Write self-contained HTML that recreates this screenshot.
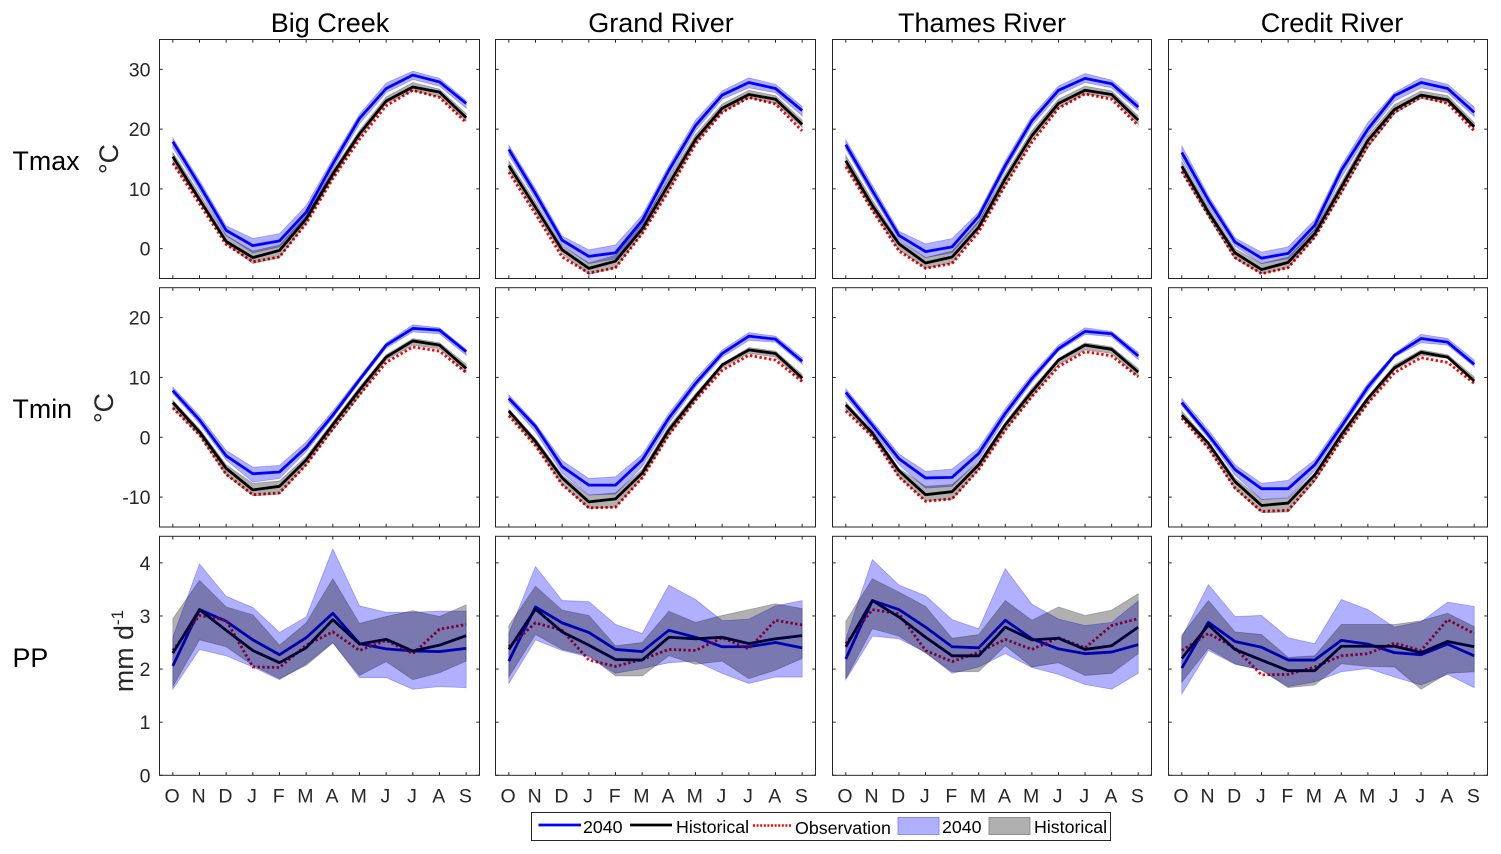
<!DOCTYPE html>
<html lang="en">
<head>
<meta charset="utf-8">
<title>Monthly climatology for four rivers</title>
<style>
html,body{margin:0;padding:0;background:#fff;}
svg{display:block;font-family:"Liberation Sans",Arial,sans-serif;}
</style>
</head>
<body>
<svg id="figure" xmlns="http://www.w3.org/2000/svg" width="1501" height="854" viewBox="0 0 1501 854">
<rect x="0" y="0" width="1501" height="854" fill="#fff"/>
<text x="330" y="32" font-size="27" text-anchor="middle" fill="#000">Big Creek</text>
<text x="661" y="32" font-size="27" text-anchor="middle" fill="#000">Grand River</text>
<text x="982" y="32" font-size="27" text-anchor="middle" fill="#000">Thames River</text>
<text x="1332" y="32" font-size="27" text-anchor="middle" fill="#000">Credit River</text>
<text x="12.5" y="170" font-size="26.8" fill="#000">Tmax</text>
<text x="12.5" y="418" font-size="26.8" fill="#000">Tmin</text>
<text x="12.5" y="667" font-size="26.8" fill="#000">PP</text>
<text transform="translate(118,159) rotate(-90)" font-size="26.8" text-anchor="middle" fill="#262626">°C</text>
<text transform="translate(113,408) rotate(-90)" font-size="26.8" text-anchor="middle" fill="#262626">°C</text>
<text transform="translate(133,651) rotate(-90)" font-size="26.8" text-anchor="middle" fill="#262626">mm d<tspan font-size="17" dy="-10">-1</tspan></text>
<g id="panels"></g>
<g id="legend">
<rect x="531.5" y="812.5" width="579" height="28" fill="#fff" stroke="#262626" stroke-width="1"/>
<line x1="538.5" y1="825" x2="581" y2="825" stroke="#0000ff" stroke-width="2.8"/>
<text x="583" y="833" font-size="17.8" fill="#000">2040</text>
<line x1="630" y1="825" x2="672" y2="825" stroke="#000" stroke-width="2.8"/>
<text x="676" y="833" font-size="17.8" fill="#000">Historical</text>
<line x1="753" y1="825.5" x2="792" y2="825.5" stroke="#ff0000" stroke-width="2.4" stroke-dasharray="2 1.6"/>
<text x="795" y="834" font-size="17.8" fill="#000">Observation</text>
<rect x="898" y="817.5" width="41" height="17" fill="#b0b0ff" stroke="#7878ff" stroke-width="0.8"/>
<text x="942" y="833" font-size="17.8" fill="#000">2040</text>
<rect x="989" y="817.5" width="41" height="17" fill="#b0b0b0" stroke="#808080" stroke-width="0.8"/>
<text x="1034" y="833" font-size="17.8" fill="#000">Historical</text>
</g>
</svg>
<script>
// ---- categories and tick labels ----
const months = ["O","N","D","J","F","M","A","M","J","J","A","S"];
const tmaxTicks = [0,10,20,30];
const tminTicks = [-10,0,10,20];
const ppTicks = [0,1,2,3,4];
const tmaxDomain = [-5,35];
const tminDomain = [-15,25];
const ppDomain = [0,4.5];

// ---- Tmax, Big Creek ----
const tmaxBig2040 = [17.9,10.6,3.05,0.5,1.3,6.1,14.2,21.8,26.8,29.05,27.9,24.3];
const tmaxBigHist = [15.4,8.2,1.2,-1.5,-0.3,5.0,12.5,19.2,24.7,27.05,26.2,21.9];
const tmaxBigObs = [14.3,7.5,0.7,-2.2,-1.4,4.2,11.7,18.3,23.9,26.5,25.3,21.1];
const tmaxBig2040Hi = [18.5,11.4,3.8,1.7,2.5,7.2,15,22.5,27.7,29.7,28.5,24.8];
const tmaxBig2040Lo = [16.9,9.7,2.2,-0.7,0.3,5.3,13.3,20.9,26.1,28.3,27.2,23.5];
const tmaxBigHistHi = [16.1,9.2,2.2,-0.4,0.6,5.6,13.1,19.8,25.4,27.8,26.7,22.6];
const tmaxBigHistLo = [14.4,7.8,0.8,-2.5,-1.5,4.3,11.8,18.6,24.3,26.4,25.4,21.3];
// ---- Tmax, Grand River ----
const tmaxGrand2040 = [16.6,9.2,1.4,-1.3,-0.7,4.7,13.1,20.6,25.7,27.8,26.8,23.1];
const tmaxGrandHist = [13.9,6.9,-0.2,-3.3,-2.1,3.3,10.8,18.3,23.5,25.8,25,20.8];
const tmaxGrandObs = [12.8,5.8,-1.4,-4.1,-3.2,2.5,9.7,17.5,22.8,25.3,24.2,19.7];
const tmaxGrand2040Hi = [17.3,10,2.1,-0.2,0.6,5.6,13.9,21.5,26.4,28.6,27.5,23.8];
const tmaxGrand2040Lo = [15.7,8.3,0.6,-2.5,-1.7,3.6,11.9,19.7,25,26.9,26.1,22.2];
const tmaxGrandHistHi = [14.7,7.8,0.4,-2.4,-1.1,4.2,11.7,19.1,24.2,26.5,25.6,21.5];
const tmaxGrandHistLo = [13.1,6.1,-0.9,-4.3,-3.2,2.5,9.8,17.6,22.8,25.2,24.3,20.3];
// ---- Tmax, Thames River ----
const tmaxThames2040 = [17.4,9.7,2.2,-0.5,0.3,5.4,13.9,21.4,26.5,28.5,27.6,23.7];
const tmaxThamesHist = [14.7,7.2,0.8,-2.4,-1.4,3.6,11.7,18.9,24.3,26.5,25.8,21.5];
const tmaxThamesObs = [13.7,6.4,-0.4,-3.3,-2.5,2.8,10.6,17.8,23.5,25.9,25,20.6];
const tmaxThames2040Hi = [18.2,10.6,2.9,0.8,1.7,6.1,14.7,22.2,27.2,29.3,28.2,24.4];
const tmaxThames2040Lo = [16.7,8.9,1.5,-1.5,-0.7,4.4,13.1,20.6,25.7,27.8,26.9,23.1];
const tmaxThamesHistHi = [15.6,8.1,1.3,-1.5,-0.4,4.6,12.5,19.7,25,27.2,26.4,22.2];
const tmaxThamesHistLo = [13.9,6.4,-0.2,-3.3,-2.4,3.1,10.6,18.1,23.6,25.9,25.3,20.8];
// ---- Tmax, Credit River ----
const tmaxCredit2040 = [16.1,8.1,1.1,-1.6,-0.8,3.9,13.1,20,25.6,27.8,26.8,22.8];
const tmaxCreditHist = [13.8,6.1,-0.7,-3.5,-2.3,2.5,10.3,18.1,23.3,25.7,24.9,20.4];
const tmaxCreditObs = [12.9,5.6,-1.5,-4.2,-3.2,1.9,9.4,17.2,22.8,25.4,24.3,19.7];
const tmaxCredit2040Hi = [17.2,8.9,1.8,-0.6,0.3,4.8,13.9,21.1,26.1,28.6,27.5,23.7];
const tmaxCredit2040Lo = [15,7.2,0.4,-2.5,-1.7,3.1,11.9,19.2,24.7,26.9,26.1,22.1];
const tmaxCreditHistHi = [14.6,6.9,0,-2.5,-1.4,3.3,11.1,18.9,24.1,26.4,25.6,21.1];
const tmaxCreditHistLo = [12.8,5.3,-1.7,-4.2,-3.2,1.8,9.2,16.9,22.6,25.1,24.4,20];

// ---- Tmin, Big Creek ----
const tminBig2040 = [7.8,2.9,-3.1,-6.1,-5.8,-1.7,3.7,9.6,15.4,18.2,17.9,14.3];
const tminBigHist = [5.8,0.9,-5.2,-8.8,-8.2,-3.8,2.1,7.9,13.4,16.1,15.4,11.5];
const tminBigObs = [4.9,0.4,-6.2,-9.6,-9.3,-4.6,1.4,7.1,12.5,15.1,14.4,10.8];
const tminBig2040Hi = [8.4,3.6,-2.2,-5,-4.7,-0.8,4.4,10.1,15.8,18.8,18.3,14.7];
const tminBig2040Lo = [7.3,2.3,-3.8,-7.5,-6.9,-2.4,3.2,9.2,14.9,17.6,17.3,13.7];
const tminBigHistHi = [6.2,1.4,-4.6,-7.7,-7.3,-3.2,2.6,8.4,13.8,16.5,15.8,12.2];
const tminBigHistLo = [4.9,0.3,-6.3,-9.8,-9.5,-4.6,1.2,6.9,12.9,15.4,14.8,10.8];
// ---- Tmin, Grand River ----
const tminGrand2040 = [6.5,1.8,-4.9,-8,-8,-3.8,3.2,9,14,16.9,16.4,12.7];
const tminGrandHist = [4.4,-0.7,-6.8,-10.8,-10.3,-6,1.2,6.8,12.1,14.6,14,9.9];
const tminGrandObs = [3.6,-1.4,-7.9,-11.8,-11.7,-6.8,0.4,6.2,11.2,13.7,12.9,9.3];
const tminGrand2040Hi = [7.1,2.3,-3.9,-6.9,-6.6,-2.9,4,9.8,14.6,17.5,16.9,13.3];
const tminGrand2040Lo = [5.9,0.9,-6,-9.6,-9.5,-4.9,2.3,8.4,13.4,16.2,15.9,12.2];
const tminGrandHistHi = [4.7,-0.2,-6.3,-9.7,-9.3,-5.4,1.8,7.3,12.3,15,14.4,10.5];
const tminGrandHistLo = [3.7,-1.4,-7.9,-11.9,-11.7,-6.8,0.3,6.2,11.6,14,13.4,9.4];
// ---- Tmin, Thames River ----
const tminThames2040 = [7.5,2,-3.6,-6.8,-6.7,-2.7,4,9.8,14.8,17.7,17.3,13.6];
const tminThamesHist = [5.4,0.7,-5.6,-9.6,-9.1,-4.6,2.1,7.6,12.9,15.4,14.7,10.9];
const tminThamesObs = [4.4,0.1,-6.6,-10.7,-10.3,-5.4,1.2,6.8,11.8,14.3,13.6,10.1];
const tminThames2040Hi = [8.1,2.7,-2.8,-5.7,-5.3,-1.8,4.8,10.5,15.4,18.3,17.7,14.2];
const tminThames2040Lo = [6.8,1.2,-4.6,-8.5,-8.2,-3.8,3.2,9.2,14.4,17.2,16.8,13];
const tminThamesHistHi = [5.9,1.1,-5.2,-8.2,-7.9,-4.1,2.5,8.2,13.2,15.8,15.1,11.5];
const tminThamesHistLo = [4.6,0.1,-6.6,-10.6,-10.4,-5.4,1.2,6.8,12.1,14.6,14,10.1];
// ---- Tmin, Credit River ----
const tminCredit2040 = [5.8,0.4,-5.4,-8.6,-8.6,-4.6,1.8,8.4,13.7,16.5,15.9,12.2];
const tminCreditHist = [3.7,-1,-7.4,-11.4,-11,-6.3,0.4,6.5,11.6,14.2,13.4,9.4];
const tminCreditObs = [3.2,-1.8,-8.5,-12.4,-12.2,-7.1,-0.4,5.7,10.8,13.3,12.5,9];
const tminCredit2040Hi = [6.5,1.2,-4.6,-7.7,-7.2,-3.8,2.6,9,14,17.2,16.5,12.9];
const tminCredit2040Lo = [5.3,-0.2,-6.3,-10.4,-10.1,-5.6,1.2,7.7,13.4,15.8,15.4,11.8];
const tminCreditHistHi = [4.4,-0.7,-6.8,-10.4,-10.2,-6,0.9,6.8,12.1,14.6,13.8,10.1];
const tminCreditHistLo = [3.3,-1.8,-8.6,-12.6,-12.5,-7.4,-0.4,5.7,11.2,13.7,13.2,9.3];

// ---- PP, Big Creek ----
const ppBig2040 = [2.06,3.12,2.90,2.55,2.27,2.59,3.05,2.48,2.38,2.34,2.33,2.39];
const ppBigHist = [2.30,3.12,2.73,2.35,2.12,2.40,2.93,2.47,2.56,2.34,2.45,2.63];
const ppBigObs = [2.35,3.01,2.92,2.04,2.03,2.45,2.70,2.35,2.54,2.29,2.75,2.84];
const ppBig2040Hi = [2.60,3.98,3.37,3.16,2.69,2.98,4.26,3.19,3.07,3.07,3.09,3.09];
const ppBig2040Lo = [1.62,2.37,2.25,2.04,1.80,2.1,2.50,1.84,1.84,1.62,1.67,1.65];
const ppBigHistHi = [2.95,3.67,3.17,3.02,2.45,2.87,3.70,2.86,2.99,3.10,2.99,3.21];
const ppBigHistLo = [1.67,2.55,2.42,2.07,1.82,2.07,2.49,1.88,2.14,1.80,1.93,2.15];
// ---- PP, Grand River ----
const ppGrand2040 = [2.15,3.17,2.87,2.69,2.37,2.33,2.73,2.60,2.42,2.42,2.50,2.40];
const ppGrandHist = [2.37,3.13,2.70,2.45,2.18,2.17,2.60,2.57,2.60,2.48,2.57,2.63];
const ppGrandObs = [2.42,2.87,2.73,2.17,2.05,2.18,2.37,2.35,2.59,2.38,2.92,2.83];
const ppGrand2040Hi = [2.67,3.93,3.29,3.27,2.84,2.67,3.58,3.31,2.91,2.94,3.19,3.29];
const ppGrand2040Lo = [1.73,2.55,2.35,2.23,1.92,2.01,2.12,2.15,1.92,1.73,1.85,1.85];
const ppGrandHistHi = [2.82,3.56,3.11,3.01,2.44,2.50,3.09,2.88,3.01,3.12,3.23,3.14];
const ppGrandHistLo = [1.85,2.65,2.37,2.25,1.87,1.87,2.25,2.09,2.15,1.82,1.98,2.20];
// ---- PP, Thames River ----
const ppThames2040 = [2.19,3.29,3.12,2.79,2.42,2.40,2.92,2.57,2.38,2.29,2.32,2.46];
const ppThamesHist = [2.42,3.29,2.98,2.60,2.25,2.25,2.79,2.55,2.58,2.37,2.44,2.79];
const ppThamesObs = [2.48,3.12,3.04,2.35,2.14,2.32,2.56,2.37,2.59,2.40,2.82,2.95];
const ppThames2040Hi = [2.57,4.06,3.58,3.38,2.93,2.76,3.89,3.22,2.94,2.82,2.88,3.28];
const ppThames2040Lo = [1.80,2.62,2.57,2.32,1.92,2.04,2.29,2.03,1.90,1.71,1.62,1.92];
const ppThamesHistHi = [2.90,3.70,3.45,3.18,2.58,2.65,3.29,2.92,3.17,3.01,3.11,3.42];
const ppThamesHistLo = [1.82,2.76,2.62,2.30,1.95,1.95,2.44,2.04,2.12,1.88,1.92,2.29];
// ---- PP, Credit River ----
const ppCredit2040 = [2.02,2.88,2.52,2.41,2.17,2.17,2.54,2.47,2.31,2.27,2.47,2.25];
const ppCreditHist = [2.20,2.83,2.37,2.17,1.97,1.97,2.43,2.43,2.43,2.31,2.52,2.42];
const ppCreditObs = [2.35,2.67,2.40,1.89,1.90,2.04,2.25,2.29,2.49,2.35,2.93,2.67];
const ppCredit2040Hi = [2.60,3.59,2.99,3.01,2.59,2.48,3.31,3.12,2.79,2.89,3.26,3.18];
const ppCredit2040Lo = [1.53,2.35,2.09,1.98,1.67,1.76,1.95,2.01,1.85,1.70,1.90,1.65];
const ppCreditHistHi = [2.64,3.29,2.70,2.65,2.22,2.25,2.84,2.84,2.84,2.91,3.05,2.80];
const ppCreditHistLo = [1.75,2.39,2.10,1.98,1.65,1.70,2.10,2.05,2.04,1.62,1.92,1.95];

// ---- grid of rows and rivers ----
const rivers = ["big-creek","grand-river","thames-river","credit-river"];
const rows = ["tmax","tmin","pp"];
const seriesGrid = [
  [
    [tmaxBig2040,tmaxBigHist,tmaxBigObs,tmaxBig2040Hi,tmaxBig2040Lo,tmaxBigHistHi,tmaxBigHistLo],
    [tmaxGrand2040,tmaxGrandHist,tmaxGrandObs,tmaxGrand2040Hi,tmaxGrand2040Lo,tmaxGrandHistHi,tmaxGrandHistLo],
    [tmaxThames2040,tmaxThamesHist,tmaxThamesObs,tmaxThames2040Hi,tmaxThames2040Lo,tmaxThamesHistHi,tmaxThamesHistLo],
    [tmaxCredit2040,tmaxCreditHist,tmaxCreditObs,tmaxCredit2040Hi,tmaxCredit2040Lo,tmaxCreditHistHi,tmaxCreditHistLo]
  ],
  [
    [tminBig2040,tminBigHist,tminBigObs,tminBig2040Hi,tminBig2040Lo,tminBigHistHi,tminBigHistLo],
    [tminGrand2040,tminGrandHist,tminGrandObs,tminGrand2040Hi,tminGrand2040Lo,tminGrandHistHi,tminGrandHistLo],
    [tminThames2040,tminThamesHist,tminThamesObs,tminThames2040Hi,tminThames2040Lo,tminThamesHistHi,tminThamesHistLo],
    [tminCredit2040,tminCreditHist,tminCreditObs,tminCredit2040Hi,tminCredit2040Lo,tminCreditHistHi,tminCreditHistLo]
  ],
  [
    [ppBig2040,ppBigHist,ppBigObs,ppBig2040Hi,ppBig2040Lo,ppBigHistHi,ppBigHistLo],
    [ppGrand2040,ppGrandHist,ppGrandObs,ppGrand2040Hi,ppGrand2040Lo,ppGrandHistHi,ppGrandHistLo],
    [ppThames2040,ppThamesHist,ppThamesObs,ppThames2040Hi,ppThames2040Lo,ppThamesHistHi,ppThamesHistLo],
    [ppCredit2040,ppCreditHist,ppCreditObs,ppCredit2040Hi,ppCredit2040Lo,ppCreditHistHi,ppCreditHistLo]
  ]
];

// ---- layout (not data) ----
const NS = "http://www.w3.org/2000/svg";
const panelsRoot = document.getElementById("panels");
const columnLeft = [159.5,495.5,832.5,1168.5];
const columnWidth = [320,320,319,319];
const rowTop = [39.5,287.7,536.3];
const rowHeight = [239,239.3,239];
const rowTicks = [tmaxTicks,tminTicks,ppTicks];
const rowDomains = [tmaxDomain,tminDomain,ppDomain];
const tickLen = 3.2;
const axisColor = "#262626";
const seriesWidth = 2.8;

function make(tag, attrs, parent) {
  const el = document.createElementNS(NS, tag);
  for (const k in attrs) el.setAttribute(k, attrs[k]);
  parent.appendChild(el);
  return el;
}
function makeXScale(left, width) {
  const step = width / months.length;
  return function (i) { return left + (i + 0.5) * step; };
}
function makeYScale(top, height, domain) {
  return function (v) { return top + height - (v - domain[0]) / (domain[1] - domain[0]) * height; };
}
function linePath(values, x, y) {
  return values.map(function (v, i) { return (i ? "L" : "M") + x(i).toFixed(2) + " " + y(v).toFixed(2); }).join("");
}
function bandPath(upper, lower, x, y) {
  let d = linePath(upper, x, y);
  for (let i = lower.length - 1; i >= 0; i--) d += "L" + x(i).toFixed(2) + " " + y(lower[i]).toFixed(2);
  return d + "Z";
}

rows.forEach(function (rowName, r) {
  rivers.forEach(function (riverName, c) {
    const left = columnLeft[c], top = rowTop[r], w = columnWidth[c], h = rowHeight[r];
    const x = makeXScale(left, w), y = makeYScale(top, h, rowDomains[r]);
    const s = seriesGrid[r][c];
    const g = make("g", {}, panelsRoot);
    
    

    const frameBg = make("rect", {x:left, y:top, width:w, height:h, fill:"#fff"}, g);
    
    

    // Lines go first: the translucent bands are painted over them, as in the reference.
    const line2040 = make("path", {d:linePath(s[0], x, y), fill:"none", stroke:"#0000ff", "stroke-width":seriesWidth, "stroke-linejoin":"round"}, g);
    
    

    const lineObs = make("path", {d:linePath(s[2], x, y), fill:"none", stroke:"#ff0000", "stroke-width":seriesWidth, "stroke-dasharray":"2.4 2.4"}, g);
    
    

    const lineHist = make("path", {d:linePath(s[1], x, y), fill:"none", stroke:"#000", "stroke-width":seriesWidth, "stroke-linejoin":"round"}, g);
    
    

    const band2040 = make("path", {d:bandPath(s[3], s[4], x, y), fill:"#0000ff", "fill-opacity":0.31, stroke:"#0000ff", "stroke-opacity":0.3, "stroke-width":0.8}, g);
    
    

    const bandHist = make("path", {d:bandPath(s[5], s[6], x, y), fill:"#000", "fill-opacity":0.31, stroke:"#000", "stroke-opacity":0.25, "stroke-width":0.8}, g);
    
    

    const frame = make("rect", {x:left, y:top, width:w, height:h, fill:"none", stroke:axisColor, "stroke-width":1}, g);
    
    

    months.forEach(function (m, i) {
      const px = x(i);
      const tickBottom = make("line", {x1:px, x2:px, y1:top + h, y2:top + h - tickLen, stroke:axisColor, "stroke-width":1}, g);
      
      
      const tickTop = make("line", {x1:px, x2:px, y1:top, y2:top + tickLen, stroke:axisColor, "stroke-width":1}, g);
      
      
      if (r === 2) {
        const label = make("text", {x:px - 0.8, y:802.5, "font-size":19.5, "text-anchor":"middle", fill:axisColor}, g);
        label.textContent = m;
        
        
      }
    });

    rowTicks[r].forEach(function (t) {
      const py = y(t);
      const tickLeft = make("line", {x1:left, x2:left + tickLen, y1:py, y2:py, stroke:axisColor, "stroke-width":1}, g);
      
      
      const tickRight = make("line", {x1:left + w, x2:left + w - tickLen, y1:py, y2:py, stroke:axisColor, "stroke-width":1}, g);
      
      
      if (c === 0) {
        const label = make("text", {x:150.5, y:py + 7, "font-size":19.5, "text-anchor":"end", fill:axisColor}, g);
        label.textContent = String(t);
        
        
      }
    });
  });
});
</script>
</body>
</html>
